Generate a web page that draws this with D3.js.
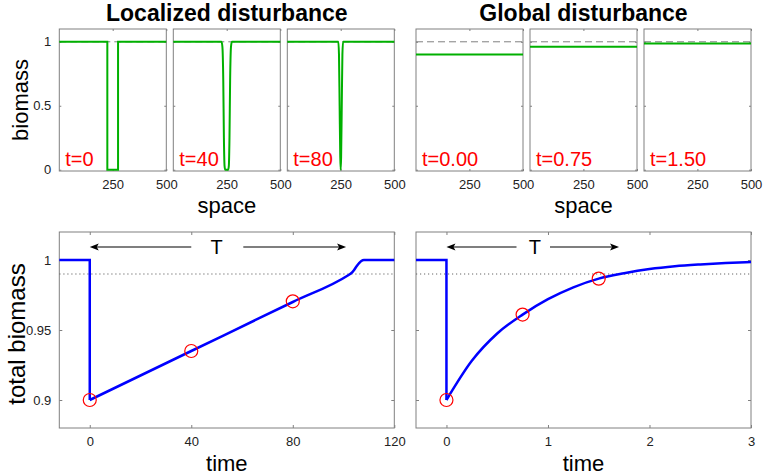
<!DOCTYPE html>
<html>
<head>
<meta charset="utf-8">
<script src="https://cdn.jsdelivr.net/npm/d3@7"></script>
<style>
    body { margin: 0; background: #fff; }
    svg { font-family: "Liberation Sans", Arial, Helvetica, sans-serif; }
</style>
</head>
<body>
<div id="wrapper"></div>
<script>
// ---- top row: biomass profiles over space ----
const spaceTicks = [250, 500];
const biomassTicks = [0, 0.5, 1];
const localLabels = ["t=0", "t=40", "t=80"];
const globalLabels = ["t=0.00", "t=0.75", "t=1.50"];

// localized disturbance profiles, [space, biomass]
const localT0 = [[1, 1], [225, 1], [225, 0], [275, 0], [275, 1], [500, 1]];
const localT40 = [[1, 1], [226, 1], [230, 0.96], [234, 0.7], [237, 0.25], [240, 0.03], [243, 0],
                  [257, 0], [260, 0.03], [263, 0.25], [266, 0.7], [270, 0.96], [274, 1], [500, 1]];
const localT80 = [[1, 1], [239, 1], [242, 0.9], [245, 0.5], [248, 0.1], [250, 0],
                  [252, 0.1], [255, 0.5], [258, 0.9], [261, 1], [500, 1]];
// global disturbance: flat profiles
const globalLevels = [0.9, 0.961, 0.9867];

// ---- bottom row: total biomass over time ----
const localTime = [-12, 0, 0, 40, 80, 102, 103, 104, 105, 106, 107, 108, 120];
const localTotal = [1, 1, 0.9, 0.935, 0.97, 0.9893, 0.9905, 0.9925, 0.9952, 0.9975, 0.9993, 1, 1];
const globalTime = [-0.3, 0, 0, 0.25, 0.5, 0.75, 1, 1.25, 1.5, 1.75, 2, 2.25, 2.5, 2.75, 3];
const globalTotal = [1, 1, 0.9, 0.928, 0.9475, 0.961, 0.972, 0.9805, 0.9867, 0.9905, 0.9935, 0.9955, 0.9968, 0.9978, 0.9986];
const localMarkT = [0, 40, 80];
const localMarkV = [0.9, 0.935, 0.9705];
const globalMarkT = [0, 0.75, 1.5];
const globalMarkV = [0.9, 0.961, 0.9867];
const localTimeTicks = [0, 40, 80, 120];
const globalTimeTicks = [0, 1, 2, 3];
const totalTicks = [0.9, 0.95, 1];
const threshold = 0.99;
// T arrows: [start, gap start, label, gap end, end] in time units
const arrowLocal = [0, 40, 50, 60.5, 101];
const arrowGlobal = [0, 0.69, 0.87, 1.02, 1.7];
const arrowLevel = 1.0093;

const W = 765, H = 475;
const pw = 107, gap = 7;
const groupLeft = [59.3, 416];
const topBox = [171, 29], botBox = [428, 232];
const grey = "#808080";

const svg = d3.select("#wrapper").append("svg")
    .attr("width", W)
    .attr("height", H);

// box with inward ticks on all four sides
function frame(x, y, xt, yt, tickLen, showX, showY, yFmt, xPad) {
    const g = svg.append("g");
    const [x0, x1] = x.range();
    const [y0, y1] = y.range();
    const clean = s => {
        s.select(".domain").remove();
        s.attr("font-family", null).attr("font-size", 13);
        s.selectAll("line").attr("stroke", grey);
        s.selectAll("text").attr("fill", "#222");
    };
    g.append("g").attr("transform", `translate(0,${y0})`)
        .call(d3.axisBottom(x).tickValues(xt).tickSize(-tickLen).tickPadding(xPad)
            .tickFormat(showX ? d3.format("d") : () => ""))
        .call(clean);
    g.append("g").attr("transform", `translate(0,${y1})`)
        .call(d3.axisTop(x).tickValues(xt).tickSize(-tickLen).tickFormat(() => ""))
        .call(clean);
    g.append("g").attr("transform", `translate(${x0},0)`)
        .call(d3.axisLeft(y).tickValues(yt).tickSize(-tickLen).tickPadding(8)
            .tickFormat(showY ? yFmt : () => ""))
        .call(clean);
    g.append("g").attr("transform", `translate(${x1},0)`)
        .call(d3.axisRight(y).tickValues(yt).tickSize(-tickLen).tickFormat(() => ""))
        .call(clean);
    g.append("rect")
        .attr("x", x0).attr("y", y1)
        .attr("width", x1 - x0).attr("height", y0 - y1)
        .attr("fill", "none").attr("stroke", grey).attr("stroke-width", 1);
    return g;
}

// ---------- top row ----------
const topY = d3.scaleLinear().domain([-0.01, 1.1]).range(topBox);
const localProfiles = [localT0, localT40, localT80];

function topPanel(left, i, profile, curve, label, showY) {
    const x = d3.scaleLinear().domain([1, 500]).range([left, left + pw]);
    const g = frame(x, topY, spaceTicks, biomassTicks, 2, true, showY, d3.format("~g"), 8.8);
    // reference level
    g.append("line")
        .attr("x1", x(1)).attr("x2", x(500))
        .attr("y1", topY(1)).attr("y2", topY(1))
        .attr("stroke", grey).attr("stroke-dasharray", "7,4");
    const line = d3.line().x(d => x(d[0])).y(d => topY(d[1])).curve(curve);
    g.append("path")
        .attr("d", line(profile))
        .attr("fill", "none")
        .attr("stroke", "#00b000")
        .attr("stroke-width", 2);
    g.append("text")
        .attr("x", left + 6)
        .attr("y", 166)
        .attr("font-size", 20)
        .attr("fill", "#ff0000")
        .text(label);
}

localProfiles.forEach((p, i) => {
    topPanel(groupLeft[0] + i * (pw + gap), i, p,
        i === 0 ? d3.curveLinear : d3.curveMonotoneX, localLabels[i], i === 0);
});
globalLevels.forEach((v, i) => {
    topPanel(groupLeft[1] + i * (pw + gap), i, [[1, v], [500, v]],
        d3.curveLinear, globalLabels[i], false);
});

// titles and labels
const groupMid = groupLeft.map(l => l + (3 * pw + 2 * gap) / 2);
svg.append("text").attr("x", groupMid[0]).attr("y", 20.5)
    .attr("text-anchor", "middle").attr("font-size", 23).attr("font-weight", "bold")
    .text("Localized disturbance");
svg.append("text").attr("x", groupMid[1]).attr("y", 20.5)
    .attr("text-anchor", "middle").attr("font-size", 23).attr("font-weight", "bold")
    .text("Global disturbance");
groupMid.forEach(m => {
    svg.append("text").attr("x", m).attr("y", 212.8)
        .attr("text-anchor", "middle").attr("font-size", 22).text("space");
});
svg.append("text")
    .attr("transform", `translate(28,${(topBox[0] + topBox[1]) / 2}) rotate(-90)`)
    .attr("text-anchor", "middle").attr("font-size", 22).text("biomass");

// ---------- bottom row ----------
const botY = d3.scaleLinear().domain([0.88, 1.02]).range(botBox);

function arrowHead(g, xTip, y, dir) {
    const L = 9, w = 3.5, n = 2;
    g.append("path")
        .attr("d", `M${xTip},${y} L${xTip - dir * L},${y - w} L${xTip - dir * (L - n)},${y} L${xTip - dir * L},${y + w} Z`)
        .attr("fill", "#000");
}

function bottomPanel(left, xDomain, xTicks, times, totals, markT, markV, arrow, showY) {
    const x = d3.scaleLinear().domain(xDomain).range([left, left + 3 * pw + 2 * gap]);
    const g = frame(x, botY, xTicks, totalTicks, 3, true, showY, d3.format("~g"), 8.5);

    // recovery threshold
    g.append("line")
        .attr("x1", x(xDomain[0])).attr("x2", x(xDomain[1]))
        .attr("y1", botY(threshold)).attr("y2", botY(threshold))
        .attr("stroke", "#666").attr("stroke-width", 1)
        .attr("stroke-dasharray", "1.2,2.8");

    const pts = times.map((t, i) => [t, totals[i]]);
    const stepLine = d3.line().x(d => x(d[0])).y(d => botY(d[1]));
    const smoothLine = d3.line().x(d => x(d[0])).y(d => botY(d[1])).curve(d3.curveMonotoneX);
    g.append("path")
        .attr("d", stepLine(pts.slice(0, 3)))
        .attr("fill", "none").attr("stroke", "#0000ff").attr("stroke-width", 2.5);
    g.append("path")
        .attr("d", smoothLine(pts.slice(2)))
        .attr("fill", "none").attr("stroke", "#0000ff").attr("stroke-width", 2.5)
        .attr("stroke-linejoin", "round");

    g.selectAll("circle.mark")
        .data(markT.map((t, i) => [t, markV[i]]))
        .join("circle")
        .attr("class", "mark")
        .attr("cx", d => x(d[0])).attr("cy", d => botY(d[1]))
        .attr("r", 6.5)
        .attr("fill", "none").attr("stroke", "#ff0000").attr("stroke-width", 1.2);

    // T arrow
    const ay = botY(arrowLevel);
    g.append("line").attr("x1", x(arrow[0]) + 4).attr("x2", x(arrow[1]))
        .attr("y1", ay).attr("y2", ay).attr("stroke", "#000").attr("stroke-width", 1.2);
    g.append("line").attr("x1", x(arrow[3])).attr("x2", x(arrow[4]) - 4)
        .attr("y1", ay).attr("y2", ay).attr("stroke", "#000").attr("stroke-width", 1.2);
    arrowHead(g, x(arrow[0]), ay, -1);
    arrowHead(g, x(arrow[4]), ay, 1);
    g.append("text").attr("x", x(arrow[2])).attr("y", ay + 6.8)
        .attr("text-anchor", "middle").attr("font-size", 20).text("T");

    svg.append("text").attr("x", (x.range()[0] + x.range()[1]) / 2).attr("y", 471)
        .attr("text-anchor", "middle").attr("font-size", 22).text("time");
}

bottomPanel(groupLeft[0], [-12, 120], localTimeTicks, localTime, localTotal,
    localMarkT, localMarkV, arrowLocal, true);
bottomPanel(groupLeft[1], [-0.3, 3], globalTimeTicks, globalTime, globalTotal,
    globalMarkT, globalMarkV, arrowGlobal, false);

svg.append("text")
    .attr("transform", `translate(25,334) rotate(-90)`)
    .attr("text-anchor", "middle").attr("font-size", 24).text("total biomass");
</script>
</body>
</html>
